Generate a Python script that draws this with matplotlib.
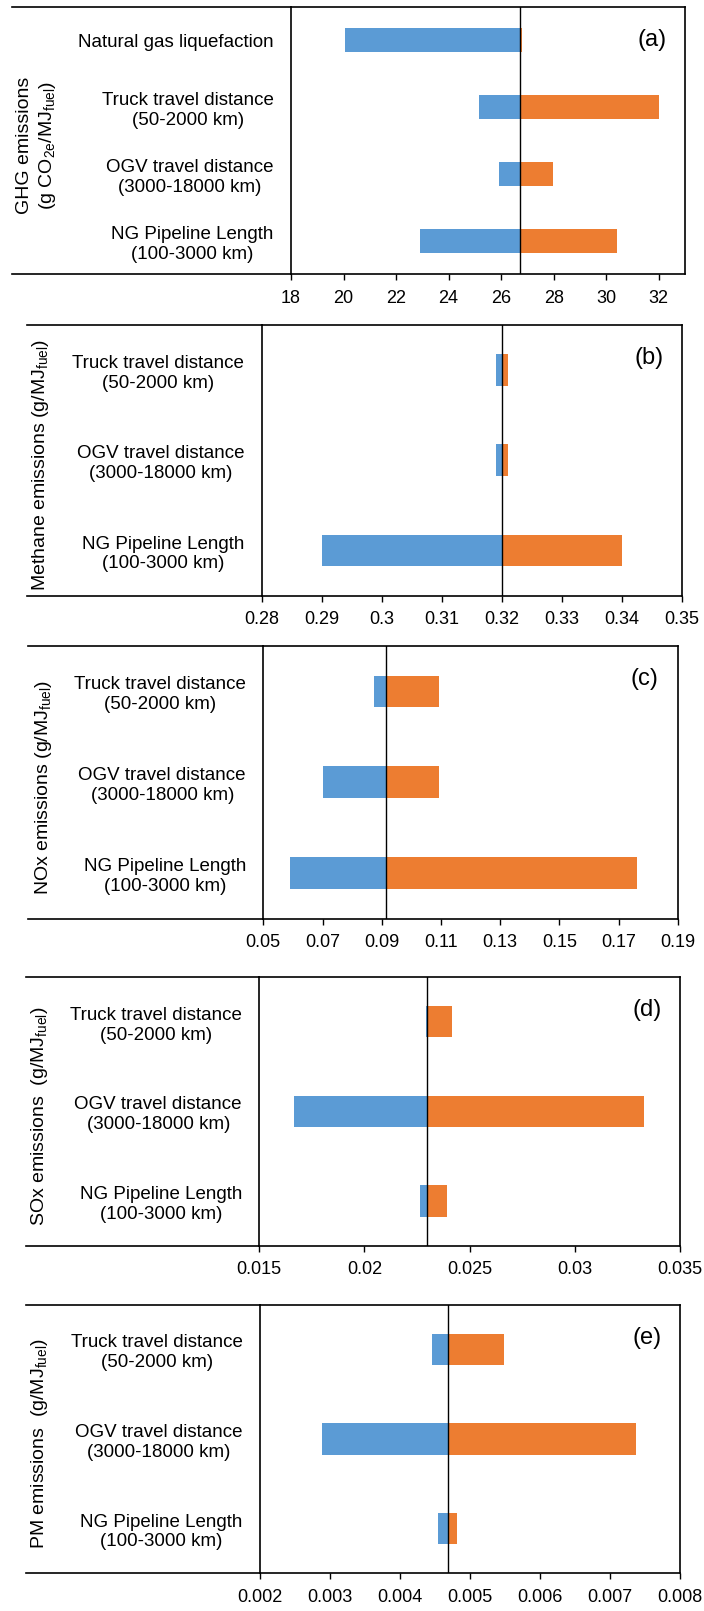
import matplotlib
matplotlib.use("Agg")
import matplotlib.pyplot as plt
from matplotlib.lines import Line2D

plt.rcParams["font.family"] = ["Liberation Sans", "DejaVu Sans"]
plt.rcParams["mathtext.default"] = "regular"

BLUE = "#5B9BD5"
ORANGE = "#ED7D31"

# ---- data ------------------------------------------------------------------
cats_a = ["Natural gas liquefaction", "Truck travel distance\n(50-2000 km)",
          "OGV travel distance\n(3000-18000 km)", "NG Pipeline Length\n(100-3000 km)"]
cats_be = cats_a[1:]

a_base = 26.70
a_low = [20.05, 25.15, 25.90, 22.91]
a_high = [26.79, 32.02, 27.98, 30.43]

b_base = 0.3200
b_low = [0.3191, 0.3191, 0.2900]
b_high = [0.3210, 0.3210, 0.3400]

c_base = 0.0913
c_low = [0.0874, 0.0703, 0.0591]
c_high = [0.1092, 0.1092, 0.1762]

d_base = 0.02300
d_low = [0.02292, 0.01664, 0.02264]
d_high = [0.02418, 0.03329, 0.02392]

e_base = 0.00468
e_low = [0.00446, 0.00289, 0.00455]
e_high = [0.00549, 0.00738, 0.00482]

a_ticks = [18, 20, 22, 24, 26, 28, 30, 32]
a_ticklabels = ["18", "20", "22", "24", "26", "28", "30", "32"]
b_ticks = [0.28, 0.29, 0.30, 0.31, 0.32, 0.33, 0.34, 0.35]
b_ticklabels = ["0.28", "0.29", "0.3", "0.31", "0.32", "0.33", "0.34", "0.35"]
c_ticks = [0.05, 0.07, 0.09, 0.11, 0.13, 0.15, 0.17, 0.19]
c_ticklabels = ["0.05", "0.07", "0.09", "0.11", "0.13", "0.15", "0.17", "0.19"]
d_ticks = [0.015, 0.02, 0.025, 0.03, 0.035]
d_ticklabels = ["0.015", "0.02", "0.025", "0.03", "0.035"]
e_ticks = [0.002, 0.003, 0.004, 0.005, 0.006, 0.007, 0.008]
e_ticklabels = ["0.002", "0.003", "0.004", "0.005", "0.006", "0.007", "0.008"]

ylabels = ["GHG emissions\n(g CO$_{2e}$/MJ$_{fuel}$)",
           "Methane emissions (g/MJ$_{fuel}$)",
           "NOx emissions (g/MJ$_{fuel}$)",
           "SOx emissions  (g/MJ$_{fuel}$)",
           "PM emissions  (g/MJ$_{fuel}$)"]
tags = ["(a)", "(b)", "(c)", "(d)", "(e)"]

panels = [
    (cats_a, a_base, a_low, a_high, a_ticks, a_ticklabels, (18, 33)),
    (cats_be, b_base, b_low, b_high, b_ticks, b_ticklabels, (0.28, 0.35)),
    (cats_be, c_base, c_low, c_high, c_ticks, c_ticklabels, (0.05, 0.19)),
    (cats_be, d_base, d_low, d_high, d_ticks, d_ticklabels, (0.015, 0.035)),
    (cats_be, e_base, e_low, e_high, e_ticks, e_ticklabels, (0.002, 0.008)),
]

# plot-area boxes in pixels: left, right, top, bottom, start of extended frame lines, ylabel x
W, H = 704, 1611
boxes = [
    (291.0, 685.0, 6.7, 274.3, 11.7, 37.0),
    (261.7, 681.7, 324.7, 595.7, 27.0, 41.0),
    (263.3, 677.7, 646.0, 918.7, 27.5, 43.5),
    (259.3, 679.7, 977.0, 1245.7, 25.6, 40.0),
    (260.2, 679.7, 1304.7, 1573.3, 25.6, 39.5),
]

fig = plt.figure(figsize=(W / 100, H / 100), dpi=100)

for (cats, base, low, high, ticks, tlabels, xlim), (L, R, T, B, ext, ylx), ylab, tag in zip(
        panels, boxes, ylabels, tags):
    ax = fig.add_axes([L / W, 1 - B / H, (R - L) / W, (B - T) / H])
    n = len(cats)
    ys = list(range(n - 1, -1, -1))
    ax.barh(ys, [base - v for v in low], left=low, height=0.35, color=BLUE, lw=0)
    ax.barh(ys, [v - base for v in high], left=base, height=0.35, color=ORANGE, lw=0)
    ax.axvline(base, color="black", lw=1.0, zorder=3)

    ax.set_xlim(*xlim)
    ax.set_ylim(-0.5, n - 0.5)
    ax.set_xticks(ticks)
    ax.set_xticklabels(tlabels)
    ax.set_yticks(ys)
    ax.set_yticklabels(cats)
    for t in ax.get_yticklabels():
        t.set_multialignment("center")
        t.set_linespacing(1.22)
    ax.tick_params(axis="y", length=0, pad=12.5, labelsize=13.5)
    ax.tick_params(axis="x", direction="out", length=4.3, width=1.0,
                   pad=7.0, labelsize=13)
    for s in ax.spines.values():
        s.set_color("black")
        s.set_linewidth(1.2)

    ax.text(1 - 33 / (R - L), 1 - 33 / (B - T), tag, transform=ax.transAxes,
            ha="center", va="center", fontsize=17, color="black")

    # frame lines reaching out over the category labels
    for yy in (T, B):
        fig.add_artist(Line2D([ext / W, L / W], [1 - yy / H, 1 - yy / H],
                              transform=fig.transFigure, color="black", lw=1.2))

    fig.text(ylx / W, 1 - ((T + B) / 2 + 5) / H, ylab, rotation=90,
             ha="center", va="center", fontsize=14, multialignment="center",
             linespacing=1.25)

fig.savefig("out.png", dpi=100)
